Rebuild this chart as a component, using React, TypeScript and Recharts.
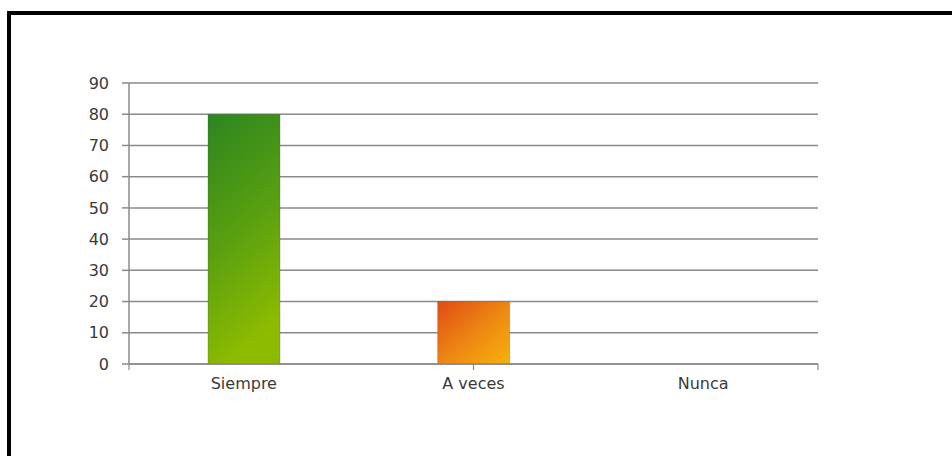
import React from "react";
import { BarChart, Bar, XAxis, YAxis, CartesianGrid, Cell } from "recharts";

const categories = ["Siempre", "A veces", "Nunca"];
const values = [80, 20, 0];
const yTicks = [0, 10, 20, 30, 40, 50, 60, 70, 80, 90];
const edgeTicks = [0, 1, 2, 3];

const data = categories.map((c, i) => ({ name: c, value: values[i] }));
const fills = ["url(#gGreen)", "url(#gOrange)", "url(#gOrange)"];

const FONT = "'DejaVu Sans', sans-serif";
const TEXT = "#3a3a3a";
const GRID = "#8a8a8a";

export default function App() {
  return (
    <div style={{ position: "fixed", left: 0, top: 0, width: 952, height: 456, overflow: "hidden", background: "#fff" }}>
      <div
        style={{
          position: "absolute",
          left: 7,
          top: 11,
          width: 960,
          height: 460,
          borderLeft: "4px solid #000",
          borderTop: "4px solid #000",
          boxSizing: "border-box",
        }}
      />
      <div style={{ position: "absolute", left: 0, top: 0 }}>
        <BarChart
          width={952}
          height={456}
          data={data}
          margin={{ top: 83, right: 134, bottom: 61, left: 69 }}
          barSize={72}
        >
          <defs>
            <linearGradient id="gGreen" x1="0" y1="0" x2="0.25" y2="1">
              <stop offset="0%" stopColor="#2b8520" />
              <stop offset="55%" stopColor="#5aa010" />
              <stop offset="100%" stopColor="#8cbb00" />
            </linearGradient>
            <linearGradient id="gOrange" x1="0" y1="0" x2="1" y2="1">
              <stop offset="0%" stopColor="#e04c14" />
              <stop offset="55%" stopColor="#ee8a12" />
              <stop offset="100%" stopColor="#f6b20a" />
            </linearGradient>
          </defs>
          <CartesianGrid vertical={false} stroke={GRID} strokeWidth={1.5} />
          <XAxis
            xAxisId="a"
            type="number"
            domain={[0, 3]}
            ticks={edgeTicks}
            tickFormatter={() => ""}
            tickSize={6}
            height={1}
            axisLine={{ stroke: GRID, strokeWidth: 1.5 }}
            tickLine={{ stroke: GRID, strokeWidth: 1.2 }}
          />
          <XAxis
            xAxisId="b"
            dataKey="name"
            height={30}
            axisLine={false}
            tickLine={false}
            tickSize={0}
            tickMargin={13}
            tick={{ fill: TEXT, fontFamily: FONT, fontSize: 16 }}
          />
          <YAxis
            width={60}
            domain={[0, 90]}
            ticks={yTicks}
            interval={0}
            tickSize={7}
            tickMargin={13}
            axisLine={{ stroke: GRID, strokeWidth: 1.5 }}
            tickLine={{ stroke: GRID, strokeWidth: 1.5 }}
            tick={{ fill: TEXT, fontFamily: FONT, fontSize: 16 }}
          />
          <Bar dataKey="value" xAxisId="b" isAnimationActive={false} stroke="rgba(90,90,60,0.3)" strokeWidth={1}>
            {data.map((d, i) => (
              <Cell key={d.name} fill={fills[i]} />
            ))}
          </Bar>
        </BarChart>
      </div>
    </div>
  );
}
